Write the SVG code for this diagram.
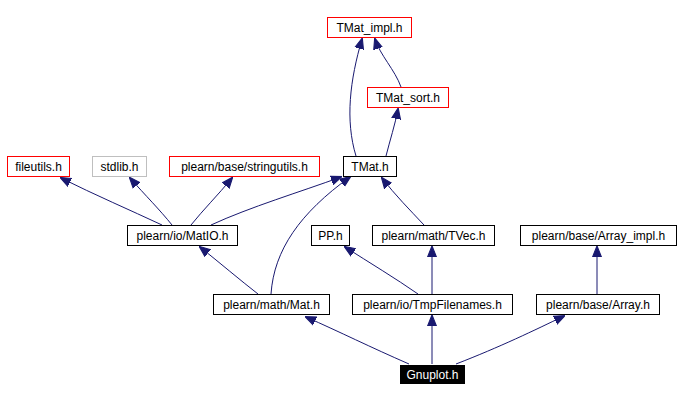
<svg xmlns="http://www.w3.org/2000/svg" width="680" height="401" viewBox="0 0 680 401">
<defs>
<style>
.n rect{fill:#fff;stroke:#000;stroke-width:1}
.r rect{stroke:#f00}
.g rect{stroke:#bfbfbf}
text{font-family:"Liberation Sans",Arial,sans-serif;font-size:12px;text-anchor:middle;fill:#000}
.e path{fill:none;stroke:#191970;stroke-width:1}
</style>
<marker id="a" viewBox="0 0 10 10" refX="9" refY="5" markerWidth="11" markerHeight="11" markerUnits="userSpaceOnUse" orient="auto">
<path d="M0,1 L10,5 L0,9 Z" fill="#191970" stroke="#191970"/>
</marker>
</defs>
<rect width="680" height="401" fill="#fff"/>
<g class="e">
<path marker-end="url(#a)" d="M409,364 C370,347 340,332 306,317"/>
<path marker-end="url(#a)" d="M432,364 L432,316"/>
<path marker-end="url(#a)" d="M456,364 C500,347 535,330 564,316"/>
<path marker-end="url(#a)" d="M597,294 L597,247"/>
<path marker-end="url(#a)" d="M432,294 L432,247"/>
<path marker-end="url(#a)" d="M418,294 C395,278 370,263 345,247"/>
<path marker-end="url(#a)" d="M258,294 C240,280 220,263 200,247"/>
<path marker-end="url(#a)" d="M271,294 C274,250 300,213 350,177"/>
<path marker-end="url(#a)" d="M162,225 C130,210 95,195 61,178"/>
<path marker-end="url(#a)" d="M172,225 C160,210 145,195 130,178"/>
<path marker-end="url(#a)" d="M191,225 C203,210 218,195 232,178"/>
<path marker-end="url(#a)" d="M211,225 C250,207 300,192 341,177"/>
<path marker-end="url(#a)" d="M424,225 C410,210 395,195 382,178"/>
<path marker-end="url(#a)" d="M356,156 C345,120 350,80 362,39"/>
<path marker-end="url(#a)" d="M386,156 C390,140 395,125 398,109"/>
<path marker-end="url(#a)" d="M401,87 C395,70 380,55 375,39"/>
</g>
<g id="TMat_impl" class="n r"><rect x="327.5" y="17.5" width="84" height="20"/><text x="369.5" y="32">TMat_impl.h</text></g>
<g id="TMat_sort" class="n r"><rect x="367.5" y="87.5" width="81" height="20"/><text x="408" y="102">TMat_sort.h</text></g>
<g id="fileutils" class="n r"><rect x="7.5" y="156.5" width="62" height="20"/><text x="38.5" y="171">fileutils.h</text></g>
<g id="stdlib" class="n g"><rect x="92.5" y="156.5" width="54" height="20"/><text x="119.5" y="171">stdlib.h</text></g>
<g id="stringutils" class="n r"><rect x="169.5" y="156.5" width="150" height="20"/><text x="244.5" y="171">plearn/base/stringutils.h</text></g>
<g id="TMat" class="n"><rect x="343.5" y="156.5" width="53" height="20"/><text x="370" y="171">TMat.h</text></g>
<g id="MatIO" class="n"><rect x="127.5" y="225.5" width="110" height="20"/><text x="182.5" y="240">plearn/io/MatIO.h</text></g>
<g id="PP" class="n"><rect x="311.5" y="225.5" width="38" height="20"/><text x="330.5" y="240">PP.h</text></g>
<g id="TVec" class="n"><rect x="372.5" y="225.5" width="122" height="20"/><text x="433.5" y="240">plearn/math/TVec.h</text></g>
<g id="Array_impl" class="n"><rect x="520.5" y="225.5" width="156" height="20"/><text x="598.5" y="240">plearn/base/Array_impl.h</text></g>
<g id="Mat" class="n"><rect x="213.5" y="294.5" width="116" height="20"/><text x="271.5" y="309">plearn/math/Mat.h</text></g>
<g id="TmpFilenames" class="n"><rect x="352.5" y="294.5" width="160" height="20"/><text x="432.5" y="309">plearn/io/TmpFilenames.h</text></g>
<g id="Array" class="n"><rect x="536.5" y="294.5" width="123" height="20"/><text x="598" y="309">plearn/base/Array.h</text></g>
<g id="Gnuplot"><rect x="400" y="365" width="65" height="19" fill="#000"/><text x="432.5" y="379" fill="#fff" style="fill:#fff">Gnuplot.h</text></g>
</svg>
